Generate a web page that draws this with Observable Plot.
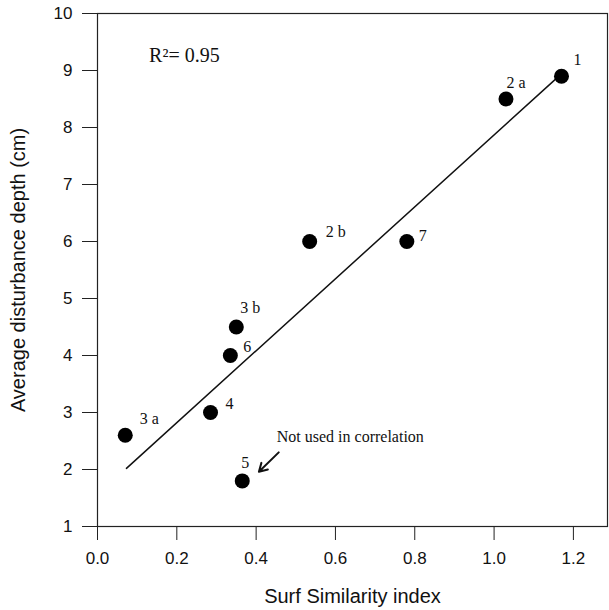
<!DOCTYPE html>
<html>
<head>
<meta charset="utf-8">
<script src="https://cdn.jsdelivr.net/npm/d3@7"></script>
<script src="https://cdn.jsdelivr.net/npm/@observablehq/plot@0.6"></script>
<style>
  html, body { margin: 0; padding: 0; background: #fff; }
</style>
</head>
<body>
<div id="chart"></div>
<script>
// Data
const siteLabels = ["1", "2 a", "2 b", "7", "3 b", "6", "4", "3 a", "5"];
const surfSimilarity = [1.17, 1.03, 0.535, 0.78, 0.35, 0.335, 0.285, 0.07, 0.365];
const disturbanceDepth = [8.9, 8.5, 6.0, 6.0, 4.5, 4.0, 3.0, 2.6, 1.8];
const fitX = [0.073, 1.16];
const fitY = [2.02, 8.88];
const xTicks = [0.0, 0.2, 0.4, 0.6, 0.8, 1.0, 1.2];
const yTicks = [1, 2, 3, 4, 5, 6, 7, 8, 9, 10];
const rSquaredText = "R\u00b2= 0.95";
const noteText = "Not used in correlation";

const points = siteLabels.map((label, i) => ({label, x: surfSimilarity[i], y: disturbanceDepth[i]}));
const fit = fitX.map((x, i) => ({x, y: fitY[i]}));

// label placement offsets (style, pixels)
const labelOffsets = {
  "1": [16, -16], "2 a": [10, -16], "2 b": [26, -10], "7": [16, -6],
  "3 b": [14, -19], "6": [17, -9], "4": [19, -9], "3 a": [24, -16], "5": [3, -18]
};

const serif = "'Liberation Serif', 'Times New Roman', serif";

const labelMarks = points.map(p => Plot.text([p], {
  x: "x", y: "y", text: "label",
  dx: labelOffsets[p.label][0], dy: labelOffsets[p.label][1],
  fontFamily: serif, fontSize: 16, fill: "#111"
}));

const chart = Plot.plot({
  width: 609,
  height: 610,
  marginLeft: 97,
  marginRight: 2,
  marginTop: 13,
  marginBottom: 84,
  style: {fontFamily: "'Liberation Sans', Arial, sans-serif", fontSize: "17px", color: "#111", background: "#fff"},
  x: {domain: [0, 1.286], ticks: xTicks, tickFormat: d3.format(".1f")},
  y: {domain: [1, 10], ticks: yTicks},
  marks: [
    Plot.frame({stroke: "#222", strokeWidth: 1.2}),
    Plot.axisX({ticks: xTicks, tickFormat: d3.format(".1f"), tickSize: 14, tickPadding: 11,
      fontSize: 17, stroke: "#222", label: null}),
    Plot.axisX({ticks: [], label: "Surf Similarity index", labelAnchor: "center", labelArrow: "none",
      labelOffset: 76, fontSize: 20}),
    Plot.axisY({ticks: yTicks, tickSize: 15, tickPadding: 10,
      fontSize: 17, stroke: "#222", label: null}),
    Plot.axisY({ticks: [], label: "Average disturbance depth (cm)", labelAnchor: "center", labelArrow: "none",
      labelOffset: 87, fontSize: 20}),
    Plot.line(fit, {x: "x", y: "y", stroke: "#111", strokeWidth: 1.5}),
    Plot.dot(points, {x: "x", y: "y", r: 7.5, fill: "#000", stroke: "none"}),
    ...labelMarks,
    Plot.text([rSquaredText], {x: 0.13, y: 9.26, text: d => d, textAnchor: "start",
      fontFamily: serif, fontSize: 20, fill: "#111"}),
    Plot.text([noteText], {x: 0.452, y: 2.58, text: d => d, textAnchor: "start",
      fontFamily: serif, fontSize: 16, fill: "#111"}),
    Plot.arrow([{x1: 0.457, y1: 2.30, x2: 0.407, y2: 1.96}], {
      x1: "x1", y1: "y1", x2: "x2", y2: "y2", stroke: "#111", strokeWidth: 2, headLength: 9})
  ]
});
document.getElementById("chart").appendChild(chart);
</script>
</body>
</html>
